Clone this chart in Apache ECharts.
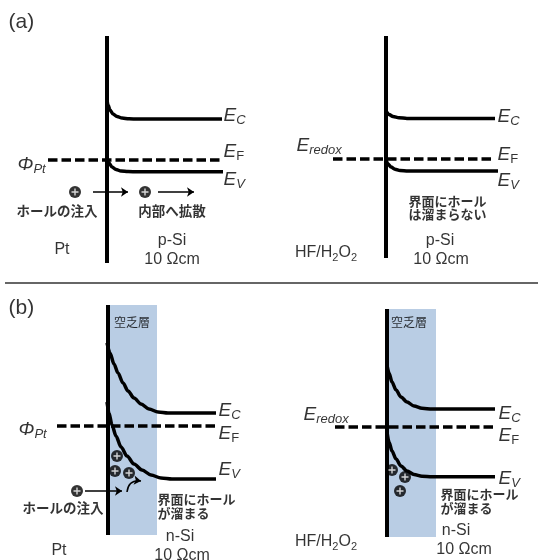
<!DOCTYPE html>
<html>
<head>
<meta charset="utf-8">
<script src="https://cdn.jsdelivr.net/npm/echarts@6/dist/echarts.min.js"></script>
<style>
  html, body { margin: 0; padding: 0; background: #fff; }
  #chart { width: 538px; height: 560px; }
</style>
</head>
<body>
<div id="chart"></div>
<script>
// バンド図: (a) Pt / p-Si と HF/H2O2 / p-Si, (b) n-Si
// 座標はピクセル相当の値で持つ (x: 0-538, y: 0-560, 下向き)
const separator = [[5, 283], [538, 283]]
const interfaceLines = [
  [[107, 36], [107, 263]],
  [[386, 36], [386, 258]],
  [[108, 305], [108, 535]],
  [[387, 309], [387, 537]]
]
const depletionZones = [
  [108, 305, 157, 535],
  [387, 309, 436, 537]
]
const ecCurves = [
  [[107, 100], [108, 105], [110, 110], [113, 114], [117, 116.5], [122, 118], [129, 118.8], [138, 119], [222, 119]],
  [[386, 111], [389, 114.5], [393, 116.5], [399, 117.8], [407, 118.4], [417, 118.5], [495, 118.5]],
  [[107, 343], [110, 353], [114, 364], [118, 373], [123, 383], [128, 391], [134, 398], [141, 404], [149, 409], [158, 412], [168, 413], [216, 413]],
  [[387, 365], [389, 373], [392, 382], [396, 390], [401, 397], [407, 402], [414, 406], [422, 408.3], [432, 409], [495, 409]]
]
const evCurves = [
  [[107, 158], [109, 163], [112, 167], [116, 169.5], [121, 171], [128, 171.6], [138, 171.8], [223, 171.8]],
  [[386, 160], [388, 164], [391, 167], [395, 169.2], [400, 170.5], [408, 171], [418, 171.1], [498, 171.1]],
  [[107, 402], [109, 413], [112, 425], [116, 436], [121, 447], [127, 456], [134, 464], [142, 470], [151, 475], [161, 478], [172, 479], [216, 479]],
  [[387, 432], [389, 442], [392, 451], [396, 459], [401, 466], [407, 471], [414, 474.5], [422, 476.2], [432, 476.8], [495, 476.8]]
]
const efLines = [
  [[48, 160], [222, 160]],
  [[333, 159], [495, 159]],
  [[57, 426], [216, 426]],
  [[335, 427], [495, 427]]
]
const holes = [[75, 192], [145, 192], [117, 456], [115, 471], [129, 473], [77, 491], [392, 470], [405, 477], [400, 491]]
const arrows = [
  [[93, 192], [128, 192]],
  [[158, 192], [194, 192]],
  [[85, 491], [122, 491]]
]
const curvedArrows = [[[127, 492], [141, 481]]]
const panelLabels = [[8, 22, '(a)'], [8, 308, '(b)']]
const bandLabels = [
  [223, 116, 'C'], [223, 152, 'F'], [223, 180, 'V'],
  [497, 117, 'C'], [497, 155, 'F'], [497, 181, 'V'],
  [218, 411, 'C'], [218, 434, 'F'], [218, 470, 'V'],
  [498, 414, 'C'], [498, 436, 'F'], [498, 479, 'V']
]
const levelLabels = [[17, 165, 'Φ', 'Pt'], [18, 430, 'Φ', 'Pt'], [296, 146, 'E', 'redox'], [303, 415, 'E', 'redox']]
const plainLabels = [
  [62, 250, 'Pt'], [172, 241, 'p-Si'], [172, 260, '10 Ωcm'],
  [440, 241, 'p-Si'], [441, 260, '10 Ωcm'],
  [59, 551, 'Pt'], [180, 537, 'n-Si'], [182, 556, '10 Ωcm'],
  [456, 531, 'n-Si'], [464, 550, '10 Ωcm']
]
const solutionLabels = [[326, 253], [326, 542]]
const jpCenterLabels = [[57, 211, 'ホールの注入'], [172, 211, '内部へ拡散'], [63, 508, 'ホールの注入']]
const jpLeftLabels = [
  [408, 201, '界面にホール'], [408, 214, 'は溜まらない'],
  [157, 499, '界面にホール'], [157, 513, 'が溜まる'],
  [440, 494, '界面にホール'], [440, 508, 'が溜まる']
]
const depletionLabels = [[132, 322, '空乏層'], [409, 322, '空乏層']]

const latin = 'Liberation Sans, Arial, sans-serif'
const cjk = 'Noto Sans CJK JP, sans-serif'
const plusPath = 'path://M4,0h2v4h4v2h-4v4h-2v-4h-4v-2h4z'

function lineSeries(points, opts) {
  return Object.assign({
    type: 'line',
    data: points,
    symbol: 'none',
    silent: true,
    lineStyle: { color: '#000', width: 3.5, cap: 'butt' },
    z: 3
  }, opts)
}

function textSeries(items, label, z) {
  return {
    type: 'scatter',
    data: items.map((d) => ({ value: [d[0], d[1]], raw: d })),
    symbolSize: 1,
    itemStyle: { color: 'transparent' },
    silent: true,
    z: z || 10,
    label: Object.assign({ show: true, color: '#000' }, label)
  }
}

const series = []

// 空乏層の矩形
series.push({
  type: 'custom',
  data: depletionZones,
  encode: { x: [0, 2], y: [1, 3] },
  silent: true,
  z: 1,
  renderItem(params, api) {
    const p1 = api.coord([api.value(0), api.value(1)])
    const p2 = api.coord([api.value(2), api.value(3)])
    return {
      type: 'rect',
      shape: {
        x: Math.min(p1[0], p2[0]),
        y: Math.min(p1[1], p2[1]),
        width: Math.abs(p2[0] - p1[0]),
        height: Math.abs(p2[1] - p1[1])
      },
      style: { fill: '#b9cde4' }
    }
  }
})

series.push(lineSeries(separator, { lineStyle: { color: '#333', width: 1.5 } }))
interfaceLines.forEach((l) => series.push(lineSeries(l, { lineStyle: { color: '#000', width: 4 } })))
ecCurves.concat(evCurves).forEach((c) => series.push(lineSeries(c, { smooth: 0.3, smoothMonotone: 'x' })))
efLines.forEach((l) => series.push(lineSeries(l, { lineStyle: { color: '#000', width: 3.5, type: [9.5, 4] } })))

// 矢印
series.push({
  type: 'lines',
  coordinateSystem: 'cartesian2d',
  data: arrows.map((a) => ({ coords: a })),
  symbol: ['none', 'arrow'],
  symbolSize: 7,
  silent: true,
  z: 4,
  lineStyle: { color: '#000', width: 1.5, opacity: 1 }
})
series.push({
  type: 'lines',
  coordinateSystem: 'cartesian2d',
  data: curvedArrows.map((a) => ({ coords: a })),
  symbol: ['none', 'arrow'],
  symbolSize: 7,
  silent: true,
  z: 4,
  lineStyle: { color: '#000', width: 1.5, opacity: 1, curveness: 0.5 }
})

// ホール
series.push({
  type: 'scatter',
  data: holes,
  symbol: 'circle',
  symbolSize: 12,
  itemStyle: { color: '#000' },
  silent: true,
  z: 5
})
series.push({
  type: 'scatter',
  data: holes,
  symbol: plusPath,
  symbolSize: 7,
  itemStyle: { color: '#fff' },
  silent: true,
  z: 6
})

// テキスト
series.push(textSeries(panelLabels, {
  position: 'right', distance: 0,
  formatter: (p) => p.data.raw[2],
  fontFamily: latin, fontSize: 21
}))
series.push(textSeries(bandLabels, {
  position: 'right', distance: 0,
  formatter: (p) => '{e|E}{' + (p.data.raw[2] === 'F' ? 'u' : 'i') + '|' + p.data.raw[2] + '}',
  rich: {
    e: { fontFamily: latin, fontSize: 19, fontStyle: 'italic', lineHeight: 22, color: '#000' },
    i: { fontFamily: latin, fontSize: 13, fontStyle: 'italic', lineHeight: 11, verticalAlign: 'bottom', color: '#000' },
    u: { fontFamily: latin, fontSize: 13, lineHeight: 11, verticalAlign: 'bottom', color: '#000' }
  }
}))
series.push(textSeries(levelLabels, {
  position: 'right', distance: 0,
  formatter: (p) => '{e|' + p.data.raw[2] + '}{i|' + p.data.raw[3] + '}',
  rich: {
    e: { fontFamily: latin, fontSize: 19, fontStyle: 'italic', lineHeight: 22, color: '#000' },
    i: { fontFamily: latin, fontSize: 13, fontStyle: 'italic', lineHeight: 11, verticalAlign: 'bottom', color: '#000' }
  }
}))
series.push(textSeries(plainLabels, {
  position: 'inside',
  formatter: (p) => p.data.raw[2],
  fontFamily: latin, fontSize: 16
}))
series.push(textSeries(solutionLabels, {
  position: 'inside',
  formatter: () => '{n|HF/H}{s|2}{n|O}{s|2}',
  rich: {
    n: { fontFamily: latin, fontSize: 16, lineHeight: 20, color: '#000' },
    s: { fontFamily: latin, fontSize: 11, lineHeight: 10, verticalAlign: 'bottom', color: '#000' }
  }
}))
series.push(textSeries(jpCenterLabels, {
  position: 'inside',
  formatter: (p) => p.data.raw[2],
  fontFamily: cjk, fontSize: 13.5, fontWeight: 'bold'
}))
series.push(textSeries(jpLeftLabels, {
  position: 'right', distance: 0,
  formatter: (p) => p.data.raw[2],
  fontFamily: cjk, fontSize: 13, fontWeight: 'bold'
}))
series.push(textSeries(depletionLabels, {
  position: 'inside',
  formatter: (p) => p.data.raw[2],
  fontFamily: cjk, fontSize: 12
}))

const chart = echarts.init(document.getElementById('chart'), null, { renderer: 'canvas' })
chart.setOption({
  animation: false,
  backgroundColor: '#fff',
  grid: { left: 0, right: 0, top: 0, bottom: 0, containLabel: false },
  xAxis: { type: 'value', min: 0, max: 538, show: false },
  yAxis: { type: 'value', min: 0, max: 560, inverse: true, show: false },
  tooltip: { show: false },
  series: series
})
</script>
</body>
</html>
